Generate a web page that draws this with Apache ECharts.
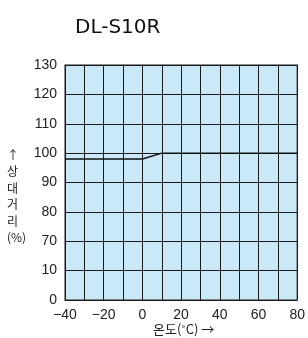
<!DOCTYPE html>
<html>
<head>
<meta charset="utf-8">
<script src="https://cdn.jsdelivr.net/npm/echarts@6/dist/echarts.min.js"></script>
<style>
  html, body { margin: 0; padding: 0; background: #fff; }
  #chart { width: 308px; height: 338px; }
</style>
</head>
<body>
<div id="chart"></div>
<script>
// 온도 (°C) 와 상대거리 (%)
var temps = [-40, 0, 10, 80];
var distances = [98, 98, 100, 100];
// broken y axis: evenly spaced ticks
var yTicks = [0, 10, 70, 80, 90, 100, 110, 120, 130];

// map a % value onto the evenly spaced band index
function toBand(v) {
    for (var i = 0; i < yTicks.length - 1; i++) {
        if (v <= yTicks[i + 1]) {
            return i + (v - yTicks[i]) / (yTicks[i + 1] - yTicks[i]);
        }
    }
    return yTicks.length - 1;
}

var points = [];
for (var i = 0; i < temps.length; i++) {
    points.push([temps[i], toBand(distances[i])]);
}

var myChart = echarts.init(document.getElementById('chart'));
myChart.setOption({
    animation: false,
    backgroundColor: '#fff',
    title: {
        text: 'DL-S10R',
        left: 70,
        top: 13,
        textStyle: {
            fontFamily: 'DejaVu Sans',
            fontSize: 20,
            fontWeight: 'normal',
            color: '#111'
        }
    },
    graphic: [
        {
            type: 'text',
            left: 7,
            top: 147,
            style: {
                text: '↑\n상\n대\n거\n리\n(%)',
                fontFamily: 'Noto Sans CJK KR',
                fontSize: 12,
                lineHeight: 16.5,
                align: 'center',
                fill: '#222'
            }
        },
        {
            type: 'text',
            left: 153,
            top: 323,
            style: {
                text: '온도(˚C) →',
                fontFamily: 'Noto Sans CJK KR',
                fontSize: 13,
                fill: '#222'
            }
        }
    ],
    grid: {
        left: 65,
        top: 65,
        width: 234,
        height: 235,
        show: true,
        backgroundColor: '#c9e9f8',
        borderColor: '#666',
        borderWidth: 1.5
    },
    xAxis: {
        type: 'value',
        min: -40,
        max: 80,
        interval: 10,
        axisLine: { show: false },
        axisTick: { show: false },
        splitLine: { show: true, lineStyle: { color: '#1a1a1a', width: 1 } },
        axisLabel: {
            margin: 8,
            fontFamily: 'Liberation Sans',
            fontSize: 14,
            color: '#222',
            formatter: function (v) {
                if (v % 20 !== 0) return '';
                return v < 0 ? '−' + Math.abs(v) : String(v);
            }
        }
    },
    yAxis: {
        type: 'value',
        min: 0,
        max: yTicks.length - 1,
        interval: 1,
        axisLine: { show: false },
        axisTick: { show: false },
        splitLine: { show: true, lineStyle: { color: '#1a1a1a', width: 1 } },
        axisLabel: {
            margin: 8,
            fontFamily: 'Liberation Sans',
            fontSize: 14,
            color: '#222',
            formatter: function (v) {
                return String(yTicks[Math.round(v)]);
            }
        }
    },
    series: [
        {
            type: 'line',
            data: points,
            symbol: 'none',
            lineStyle: { color: '#111', width: 1.5 }
        }
    ]
});
</script>
</body>
</html>
